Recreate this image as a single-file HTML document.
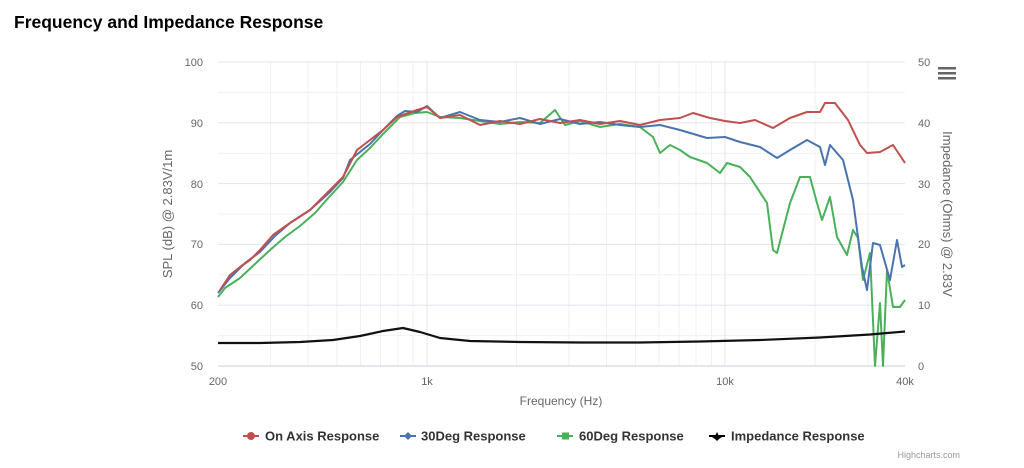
<!DOCTYPE html>
<html><head><meta charset="utf-8"><style>
body{margin:0;background:#fff;width:1024px;height:463px;overflow:hidden;font-family:"Liberation Sans",sans-serif}
</style></head><body>
<svg width="1024" height="463" viewBox="0 0 1024 463" xmlns="http://www.w3.org/2000/svg" font-family="Liberation Sans, sans-serif">
<text x="14" y="28" font-size="17.5" font-weight="bold" fill="#000">Frequency and Impedance Response</text>
<g stroke="#eef0f5" stroke-width="1">
<line x1="270.6" y1="62" x2="270.6" y2="366"/><line x1="308" y1="62" x2="308" y2="366"/><line x1="337" y1="62" x2="337" y2="366"/><line x1="360.5" y1="62" x2="360.5" y2="366"/><line x1="380.5" y1="62" x2="380.5" y2="366"/><line x1="398" y1="62" x2="398" y2="366"/><line x1="413" y1="62" x2="413" y2="366"/>
<line x1="516.6" y1="62" x2="516.6" y2="366"/><line x1="569" y1="62" x2="569" y2="366"/><line x1="606.5" y1="62" x2="606.5" y2="366"/><line x1="635.4" y1="62" x2="635.4" y2="366"/><line x1="659" y1="62" x2="659" y2="366"/><line x1="679" y1="62" x2="679" y2="366"/><line x1="696" y1="62" x2="696" y2="366"/><line x1="711.5" y1="62" x2="711.5" y2="366"/>
<line x1="815" y1="62" x2="815" y2="366"/><line x1="868" y1="62" x2="868" y2="366"/>
<line x1="218" y1="92.4" x2="905" y2="92.4"/><line x1="218" y1="153.2" x2="905" y2="153.2"/><line x1="218" y1="214" x2="905" y2="214"/><line x1="218" y1="274.8" x2="905" y2="274.8"/><line x1="218" y1="335.6" x2="905" y2="335.6"/>
</g>
<g stroke="#e2e5ec" stroke-width="1">
<line x1="218" y1="62" x2="905" y2="62"/><line x1="218" y1="122.8" x2="905" y2="122.8"/><line x1="218" y1="183.6" x2="905" y2="183.6"/><line x1="218" y1="244.4" x2="905" y2="244.4"/><line x1="218" y1="305.2" x2="905" y2="305.2"/>
<line x1="427" y1="62" x2="427" y2="366"/><line x1="725" y1="62" x2="725" y2="366"/>
</g>
<line x1="218" y1="366" x2="905" y2="366" stroke="#c0d0e0"/>
<g font-size="11" fill="#666" text-anchor="end">
<text x="203" y="66">100</text><text x="203" y="127">90</text><text x="203" y="188">80</text><text x="203" y="248">70</text><text x="203" y="309">60</text><text x="203" y="370">50</text>
</g>
<g font-size="11" fill="#666" text-anchor="start">
<text x="918" y="66">50</text><text x="918" y="127">40</text><text x="918" y="188">30</text><text x="918" y="248">20</text><text x="918" y="309">10</text><text x="918" y="370">0</text>
</g>
<g font-size="11" fill="#666" text-anchor="middle">
<text x="218" y="385">200</text><text x="427" y="385">1k</text><text x="725" y="385">10k</text><text x="905" y="385">40k</text>
<text x="561" y="405" font-size="12">Frequency (Hz)</text>
</g>
<text transform="translate(172,214) rotate(-90)" font-size="13" fill="#666" text-anchor="middle">SPL (dB) @ 2.83V/1m</text>
<text transform="translate(943,214) rotate(90)" font-size="13" fill="#666" text-anchor="middle">Impedance (Ohms) @ 2.83V</text>
<g fill="#666"><rect x="938" y="67" width="18" height="2.5"/><rect x="938" y="72" width="18" height="2.5"/><rect x="938" y="77" width="18" height="2.5"/></g>
<g fill="none" stroke-width="2" stroke-linejoin="round">
<polyline stroke="#4ab05a" points="218,297 225,288 240,278 255,264 270,250 285,237 300,226 315,213 330,196 343,182 357,160 370,148 383,134 400,117 415,113 427,112 440,117 460,118 480,121 500,124 520,122 540,123 555,110 565,125 580,121 600,127 620,124 640,127 653,137 660,153 670,145 680,150 690,157 707,163 720,173 727,163 740,167 750,177 767,203 773,250 777,253 790,203 800,177 810,177 817,203 822,220 830,197 837,237 847,255 853,230 858,238 863,280 870,253 875,366 880,303 883,366 887,270 893,307 900,307 905,300"/>
<polyline stroke="#4a73b0" points="218,293 230,278 245,263 260,252 275,236 290,223 310,210 330,192 343,178 350,160 360,152 370,144 383,130 397,116 405,111 417,112 427,106 440,118 460,112 480,120 500,122 520,118 540,124 560,119 580,124 600,122 620,125 640,127 660,125 680,130 707,138 725,137 740,142 760,147 777,158 790,150 807,140 820,147 825,165 830,145 843,160 853,200 862,267 867,290 873,243 880,245 890,280 897,240 902,267 905,265"/>
<polyline stroke="#c0504d" points="220,290 230,275 240,267 250,260 260,250 273,235 290,223 310,210 330,190 343,177 357,150 370,140 383,130 397,117 417,110 427,107 440,118 460,115 480,125 500,121 520,124 540,119 560,123 580,120 600,124 620,121 640,125 660,120 680,118 693,113 710,118 725,121 740,123 755,120 773,128 790,118 807,112 820,112 825,103 835,103 848,120 860,145 867,153 880,152 893,145 905,163"/>
<polyline stroke="#111" stroke-width="2.2" points="218,343 260,343 300,342 333,340 360,336 383,331 403,328 420,332 440,338 470,341 520,342 580,342.5 640,342.5 700,341.5 760,340 820,337.5 870,334.5 905,331.5"/>
</g>
<g font-size="13" fill="#333" font-weight="bold">
<circle cx="251" cy="436" r="4" fill="#c0504d"/><line x1="243" y1="436" x2="259" y2="436" stroke="#c0504d" stroke-width="2"/><text x="265" y="440.5">On Axis Response</text>
<path d="M408 432 L412 436 L408 440 L404 436Z" fill="#4a73b0"/><line x1="400" y1="436" x2="416" y2="436" stroke="#4a73b0" stroke-width="2"/><text x="421" y="440.5">30Deg Response</text>
<rect x="562" y="432.5" width="7" height="7" fill="#4ab05a"/><line x1="557" y1="436" x2="573" y2="436" stroke="#4ab05a" stroke-width="2"/><text x="579" y="440.5">60Deg Response</text>
<path d="M717 432 L719 436 L722 437 L719 439 L717 441 L715 439 L712 437 L715 436Z" fill="#000"/><line x1="709" y1="436" x2="725" y2="436" stroke="#000" stroke-width="2"/><text x="731" y="440.5">Impedance Response</text>
</g>
<text x="960" y="458" font-size="9" fill="#999" text-anchor="end">Highcharts.com</text>
</svg>
</body></html>
